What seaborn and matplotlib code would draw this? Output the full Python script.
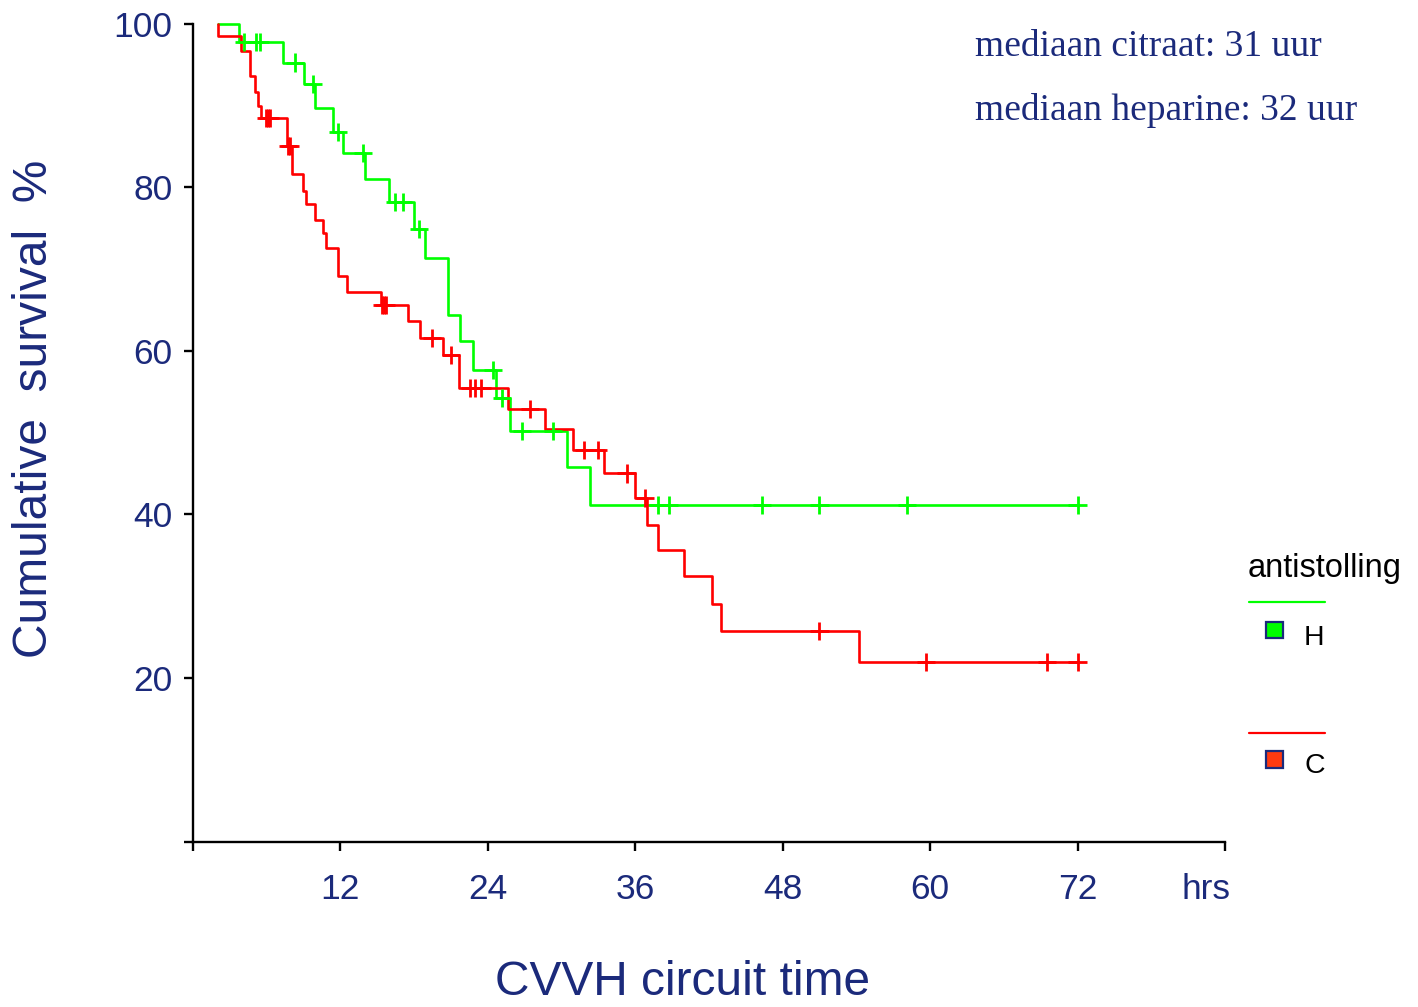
import numpy as np
import pandas as pd
import matplotlib
matplotlib.use("Agg")
import matplotlib.pyplot as plt
import matplotlib.transforms as mtransforms
from matplotlib.lines import Line2D
from matplotlib.patches import Rectangle
import seaborn as sns

# Kaplan-Meier survival of CVVH circuits per anticoagulant (time in hours, survival in %)
start_time = 2.08
end_time = 72.0

heparine_times = [3.79, 7.37, 9.06, 9.95, 11.39, 12.26, 14.02, 15.97, 18.03, 18.90,
                  20.80, 20.80, 21.75, 22.84, 24.69, 25.80, 30.42, 32.33]
heparine_surv = [97.8, 95.25, 92.66, 89.7, 86.75, 84.2, 81.0, 78.15, 74.9, 71.4,
                 67.9, 64.4, 61.26, 57.7, 54.2, 50.2, 45.85, 41.16]
heparine_censored = [4.20, 5.17, 5.49, 8.33, 9.76, 11.80, 13.88, 16.46, 17.14, 18.44,
                     24.47, 25.14, 26.77, 29.34, 37.90, 38.76, 46.35, 51.00, 58.15, 72.00]

citraat_times = [2.08, 3.93, 4.66, 4.66, 5.07, 5.34, 5.56, 7.70, 7.70, 8.06,
                 9.00, 9.22, 9.95, 10.63, 10.85, 11.85, 11.85, 12.53, 15.30, 17.54,
                 18.50, 20.34, 21.70, 21.70, 25.68, 28.67, 30.96, 33.47, 35.99, 36.94,
                 37.83, 39.97, 42.23, 42.99, 54.20]
citraat_surv = [98.45, 96.7, 95.2, 93.55, 91.7, 89.9, 88.5, 86.8, 85.0, 81.6,
                79.5, 78.0, 76.0, 74.4, 72.6, 70.7, 69.1, 67.25, 65.6, 63.6,
                61.55, 59.5, 57.5, 55.4, 52.9, 50.5, 47.9, 45.0, 42.0, 38.7,
                35.65, 32.5, 29.0, 25.75, 22.0]
citraat_censored = [6.00, 6.15, 6.30, 7.78, 7.95, 15.37, 15.56, 15.73, 19.45, 21.00,
                    22.60, 23.00, 23.50, 27.45, 31.84, 33.00, 35.30, 36.80, 51.00, 59.70,
                    69.50, 72.00]

groups = ["H", "C"]
group_colors = {"H": "#00ff00", "C": "#ff0000"}
legend_fill = {"H": "#00ff00", "C": "#ff3a10"}

x_ticks = [0, 12, 24, 36, 48, 60, 72, 84]
x_tick_labels = ["", "12", "24", "36", "48", "60", "72", "hrs"]
y_ticks = [0, 20, 40, 60, 80, 100]
y_tick_labels = ["", "20", "40", "60", "80", "100"]

NAVY = "#1b2a7b"


def step_table(group, times, surv):
    t = [start_time] + list(times) + [end_time]
    s = [100.0] + list(surv) + [surv[-1]]
    return pd.DataFrame({"time": t, "surv": s, "group": group})


def censor_table(group, times, surv, cens):
    t = np.array([start_time] + list(times))
    s = np.array([100.0] + list(surv))
    idx = np.searchsorted(t, np.array(cens), side="right") - 1
    return pd.DataFrame({"time": cens, "surv": s[idx], "group": group})


curves = pd.concat([
    step_table("H", heparine_times, heparine_surv),
    step_table("C", citraat_times, citraat_surv),
], ignore_index=True)
censors = pd.concat([
    censor_table("H", heparine_times, heparine_surv, heparine_censored),
    censor_table("C", citraat_times, citraat_surv, citraat_censored),
], ignore_index=True)

sns.set_style("white")
plt.rcParams["font.family"] = ["Liberation Sans", "DejaVu Sans"]

W, H = 1418, 1007
fig = plt.figure(figsize=(W / 100, H / 100), dpi=100)
ax = fig.add_axes([192.7 / W, 1 - 841.5 / H, (1225 - 192.7) / W, (841.5 - 23.7) / H])

sns.lineplot(data=curves, x="time", y="surv", hue="group", hue_order=groups,
             palette=group_colors, estimator=None, sort=False,
             drawstyle="steps-post", linewidth=1.9, legend=False, ax=ax)
for ln in ax.lines:
    ln.set_clip_on(False)

sns.scatterplot(data=censors, x="time", y="surv", hue="group", hue_order=groups,
                palette=group_colors, marker="+", s=170, linewidth=2.0,
                legend=False, ax=ax, zorder=3, clip_on=False)

ax.set_xlim(0, 84)
ax.set_ylim(0, 100)
ax.set_xticks(x_ticks)
ax.set_xticklabels(x_tick_labels)
ax.set_yticks(y_ticks)
ax.set_yticklabels(y_tick_labels)
ax.set_xlabel("")
ax.set_ylabel("")

for side in ["top", "right"]:
    ax.spines[side].set_visible(False)
for side in ["left", "bottom"]:
    ax.spines[side].set_color("black")
    ax.spines[side].set_linewidth(1.7)

ax.tick_params(axis="both", direction="out", length=6.5, width=1.7, color="black",
               labelcolor=NAVY, labelsize=25.5, bottom=True, left=True)
ax.tick_params(axis="x", pad=16)
ax.tick_params(axis="y", pad=8)

# the unit label sits flush against the last tick
hrs = ax.get_xticklabels()[-1]
hrs.set_horizontalalignment("right")
hrs.set_transform(hrs.get_transform() +
                  mtransforms.ScaledTranslation(6 / 100, 0, fig.dpi_scale_trans))


def fx(px):
    return px / W


def fy(py):
    return 1 - py / H


fig.text(fx(35), fy(409), "Cumulative  survival  %", rotation=90, ha="center",
         va="center", fontsize=34.5, color=NAVY)
fig.text(fx(683), fy(995), "CVVH circuit time", ha="center", va="baseline",
         fontsize=34.5, color=NAVY)

fig.text(fx(975), fy(56), "mediaan citraat: 31 uur", ha="left", va="baseline",
         fontsize=27, color=NAVY, family=["Liberation Serif", "DejaVu Serif"])
fig.text(fx(975), fy(120.5), "mediaan heparine: 32 uur", ha="left", va="baseline",
         fontsize=27, color=NAVY, family=["Liberation Serif", "DejaVu Serif"])

# legend block
fig.text(fx(1248), fy(577), "antistolling", ha="left", va="baseline",
         fontsize=23.5, color="black")
legend_rows = {"H": (602.3, 630.0, 645.0), "C": (732.7, 759.5, 773.0)}
for g in groups:
    line_y, box_y, text_y = legend_rows[g]
    fig.add_artist(Line2D([fx(1249), fx(1325)], [fy(line_y), fy(line_y)],
                          color=group_colors[g], linewidth=1.6,
                          transform=fig.transFigure))
    size = 16.5
    fig.add_artist(Rectangle((fx(1274.5 - size / 2), fy(box_y + size / 2)),
                             size / W, size / H, facecolor=legend_fill[g],
                             edgecolor=NAVY, linewidth=1.6,
                             transform=fig.transFigure))
    fig.text(fx(1304), fy(text_y), g, ha="left", va="baseline", fontsize=20.5,
             color="black")

fig.savefig("out.png", dpi=100, facecolor="white")
